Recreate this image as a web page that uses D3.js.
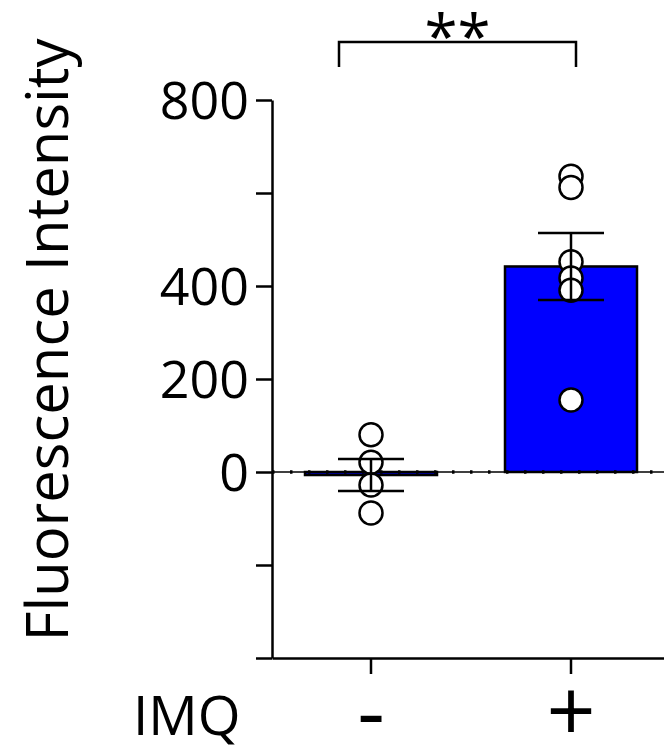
<!DOCTYPE html>
<html>
<head>
<meta charset="utf-8">
<script src="https://cdn.jsdelivr.net/npm/d3@7"></script>
<style>
  body { margin: 0; background: #fff; }
  svg { display: block; font-family: "Open Sans", sans-serif; }
</style>
</head>
<body>
<div id="chart"></div>
<script>
// ---- Data ----
const groups = ["-", "+"];
const means = [-6.5, 442];
const sems = [34.5, 72];
const points = [
    [80, 21, -28, -88],
    [636, 612, 452, 417, 391, 155]
];
const yTicks = [-400, -200, 0, 200, 400, 600, 800];
const yTickLabels = ["", "", "0", "200", "400", "", "800"];
const bracket = { from: "-", to: "+", top: 925, bottom: 871, label: "**" };

const width = 664, height = 747;
const margin = { top: 100, left: 272, bottom: 89 };

const svg = d3.select("#chart").append("svg")
    .attr("width", width)
    .attr("height", height);

// ---- Scales ----
const x = d3.scaleBand()
    .domain(groups)
    .range([margin.left, 670])
    .paddingInner(0.34)
    .paddingOuter(0.165);

const y = d3.scaleLinear()
    .domain([-400, 800])
    .range([height - margin.bottom, margin.top]);

const cx = d => x(d) + x.bandwidth() / 2;

// ---- Bars ----
svg.selectAll(".bar")
    .data(groups)
    .enter()
    .append("rect")
    .attr("x", d => x(d))
    .attr("width", x.bandwidth())
    .attr("y", (d, i) => Math.min(y(means[i]), y(0)))
    .attr("height", (d, i) => Math.abs(y(means[i]) - y(0)))
    .attr("fill", "#0000ff")
    .attr("stroke", "#000")
    .attr("stroke-width", 2.5);

// zero line (thin line + dots)
svg.append("line")
    .attr("x1", margin.left).attr("x2", 670)
    .attr("y1", y(0)).attr("y2", y(0))
    .attr("stroke", "#000").attr("stroke-width", 1.5);
svg.append("line")
    .attr("x1", margin.left).attr("x2", 670)
    .attr("y1", y(0)).attr("y2", y(0))
    .attr("stroke", "#000").attr("stroke-width", 3.5)
    .attr("stroke-dasharray", "2.5,15.5");

// ---- Axes ----
const yAxis = svg.append("g")
    .attr("transform", `translate(${margin.left},0)`)
    .call(d3.axisLeft(y)
        .tickValues(yTicks)
        .tickFormat((d, i) => yTickLabels[i])
        .tickSize(16)
        .tickSizeOuter(0)
        .tickPadding(7));

const xAxis = svg.append("g")
    .attr("transform", `translate(0,${y(-400)})`)
    .call(d3.axisBottom(x)
        .tickSize(16)
        .tickSizeOuter(0));

[yAxis, xAxis].forEach(ax => {
    ax.select(".domain").attr("stroke-width", 2.5);
    ax.selectAll(".tick line").attr("stroke-width", 2.5);
    ax.selectAll("text")
        .attr("fill", "#000")
        .style("font-family", "'Open Sans', sans-serif")
        .style("font-size", "52px");
});
yAxis.selectAll("text").attr("dy", "0.36em");
xAxis.selectAll("text")
    .style("font-size", "86px")
    .attr("y", 84)
    .attr("dy", 0);

// ---- Points ----
groups.forEach((g, i) => {
    svg.selectAll(".pt" + i)
        .data(points[i])
        .enter()
        .append("circle")
        .attr("cx", cx(g))
        .attr("cy", d => y(d))
        .attr("r", 11.5)
        .attr("fill", "#fff")
        .attr("stroke", "#000")
        .attr("stroke-width", 2.5);
});

// ---- Error bars ----
const capW = 33;
groups.forEach((g, i) => {
    const e = svg.append("g")
        .attr("stroke", "#000")
        .attr("stroke-width", 2.5);
    e.append("line")
        .attr("x1", cx(g)).attr("x2", cx(g))
        .attr("y1", y(means[i] + sems[i])).attr("y2", y(means[i] - sems[i]));
    [means[i] + sems[i], means[i] - sems[i]].forEach(v => {
        e.append("line")
            .attr("x1", cx(g) - capW).attr("x2", cx(g) + capW)
            .attr("y1", y(v)).attr("y2", y(v));
    });
});

// ---- Significance bracket ----
const bx1 = cx(bracket.from) - 32;
const bx2 = cx(bracket.to) + 5;
svg.append("path")
    .attr("d", `M${bx1},${y(bracket.bottom)}V${y(bracket.top)}H${bx2}V${y(bracket.bottom)}`)
    .attr("fill", "none")
    .attr("stroke", "#000")
    .attr("stroke-width", 2.5);

svg.append("text")
    .attr("x", (bx1 + bx2) / 2)
    .attr("y", y(bracket.top) + 16)
    .attr("text-anchor", "middle")
    .style("font-size", "60px")
    .text(bracket.label);

// ---- Titles ----
svg.append("text")
    .attr("transform", "translate(68,340) rotate(-90)")
    .attr("text-anchor", "middle")
    .style("font-size", "58px")
    .text("Fluorescence Intensity");

svg.append("text")
    .attr("x", 133)
    .attr("y", 735)
    .style("font-size", "55px")
    .text("IMQ");
</script>
</body>
</html>
